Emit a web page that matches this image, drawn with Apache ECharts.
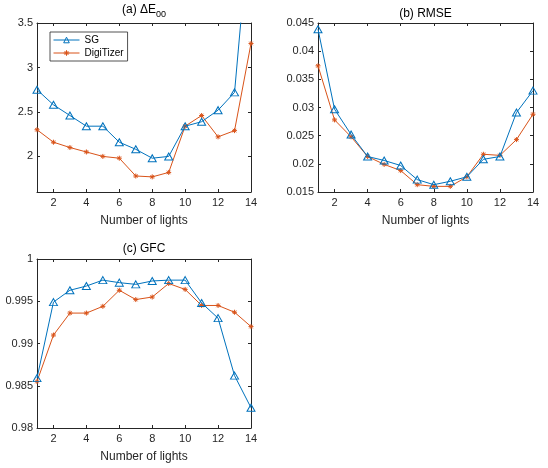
<!DOCTYPE html>
<html><head><meta charset="utf-8">
<script src="https://cdn.jsdelivr.net/npm/echarts@6/dist/echarts.min.js"></script>
<style>html,body{margin:0;padding:0;background:#fff}#c{width:548px;height:468px}</style>
</head><body><div id="c"></div>
<script>
const lights = [1,2,3,4,5,6,7,8,9,10,11,12,13,14];
const xTicks = [2,4,6,8,10,12,14];
const seriesNames = ['SG','DigiTizer'];
const titles = ['(a) ΔE', '(b) RMSE', '(c) GFC'];
const xLabel = 'Number of lights';

const deSG   = [2.75, 2.58, 2.46, 2.34, 2.34, 2.16, 2.08, 1.98, 2.00, 2.34, 2.39, 2.52, 2.72, 4.80];
const deDigi = [2.30, 2.16, 2.10, 2.05, 2.00, 1.98, 1.78, 1.77, 1.82, 2.34, 2.46, 2.22, 2.29, 3.27];
const deTicks = [2, 2.5, 3, 3.5];

const rmseSG   = [0.0439, 0.0297, 0.0252, 0.0213, 0.0206, 0.0197, 0.0172, 0.0163, 0.0169, 0.0177, 0.0208, 0.0213, 0.0291, 0.0330];
const rmseDigi = [0.0374, 0.0278, 0.0248, 0.0213, 0.0199, 0.0188, 0.0163, 0.0160, 0.0160, 0.0177, 0.0217, 0.0215, 0.0243, 0.0288];
const rmseTicks = [0.015, 0.02, 0.025, 0.03, 0.035, 0.04, 0.045];

const gfcSG   = [0.9859, 0.9949, 0.9963, 0.9968, 0.9975, 0.9972, 0.9970, 0.9974, 0.9975, 0.9975, 0.9948, 0.9930, 0.9862, 0.9824];
const gfcDigi = [0.9855, 0.9910, 0.9936, 0.9936, 0.9944, 0.9963, 0.9952, 0.9955, 0.9971, 0.9964, 0.9945, 0.9945, 0.9937, 0.9920];
const gfcTicks = [0.98, 0.985, 0.99, 0.995, 1];

const BLUE = '#0072BD', ORANGE = '#D95319', AX = '#262626';
const FONT = 'Liberation Sans, Arial, Helvetica, sans-serif';
const TRI = 'path://M5,0L10,9L0,9Z';
const AST = 'path://M0,5L10,5M5,0L5,10M1.5,1.5L8.5,8.5M1.5,8.5L8.5,1.5';

const grids = [
  {left: 37, top: 23, width: 214, height: 169},
  {left: 318, top: 23, width: 215, height: 169},
  {left: 37, top: 259, width: 214, height: 169}
];
const yRanges = [[1.6, 3.5, deTicks], [0.015, 0.045, rmseTicks], [0.98, 1, gfcTicks]];
const data = [[deSG, deDigi], [rmseSG, rmseDigi], [gfcSG, gfcDigi]];

const fmt = v => String(+(+v).toFixed(4));
const lineSt = {color: AX, width: 1};
const xAxes = [], yAxes = [], series = [];
grids.forEach((g, i) => {
  const [ymin, ymax, yt] = yRanges[i];
  ['bottom', 'top'].forEach(pos => {
    xAxes.push({
      gridIndex: i, type: 'value', min: 1, max: 14, position: pos,
      axisLine: {show: true, onZero: false, lineStyle: lineSt},
      axisTick: {show: true, inside: true, length: 3, customValues: xTicks, lineStyle: lineSt},
      axisLabel: {show: pos === 'bottom', customValues: xTicks, margin: 5, color: AX, fontSize: 11, fontFamily: FONT},
      splitLine: {show: false},
      name: pos === 'bottom' ? xLabel : '', nameLocation: 'middle', nameGap: 23,
      nameTextStyle: {color: AX, fontSize: 12, fontFamily: FONT}
    });
  });
  ['left', 'right'].forEach(pos => {
    yAxes.push({
      gridIndex: i, type: 'value', min: ymin, max: ymax, position: pos,
      axisLine: {show: true, onZero: false, lineStyle: lineSt},
      axisTick: {show: true, inside: true, length: 3, customValues: yt, lineStyle: lineSt},
      axisLabel: {show: pos === 'left', customValues: yt, margin: 4, color: AX, fontSize: 11, fontFamily: FONT, formatter: fmt},
      splitLine: {show: false}
    });
  });
  [[BLUE, TRI, [8, 7]], [ORANGE, AST, 5]].forEach(([col, sym, sz], k) => {
    series.push({
      name: seriesNames[k], type: 'line', xAxisIndex: i * 2, yAxisIndex: i * 2,
      data: lights.map((x, j) => [x, data[i][k][j]]),
      clip: true, symbol: sym, symbolSize: sz, showAllSymbol: true, z: k === 0 ? 3 : 2,
      lineStyle: {color: col, width: 1},
      itemStyle: {color: 'rgba(0,0,0,0)', borderColor: col, borderWidth: 1},
      emphasis: {disabled: true}, animation: false
    });
  });
});

const titlePos = [[144, 10], [425.5, 14], [144, 249]];
const graphic = titles.map((t, i) => ({
  type: 'text', x: titlePos[i][0], y: titlePos[i][1],
  style: {
    text: i === 0 ? '{m|' + t + '}{s|00}' : t,
    align: 'center', verticalAlign: 'middle', fill: '#000', fontSize: 12, fontFamily: FONT,
    rich: {m: {fontSize: 12, fontFamily: FONT, fill: '#000'}, s: {fontSize: 9, fontFamily: FONT, fill: '#000', padding: [10, 0, 0, 0]}}
  }
}));

const chart = echarts.init(document.getElementById('c'), null, {renderer: 'canvas'});
chart.setOption({
  animation: false,
  backgroundColor: '#fff',
  grid: grids,
  xAxis: xAxes,
  yAxis: yAxes,
  series: series,
  graphic: graphic,
  legend: {
    data: seriesNames, left: 50, top: 32, orient: 'vertical',
    itemWidth: 26, itemHeight: 7, itemGap: 3, padding: [3, 4, 3, 3],
    borderColor: AX, borderWidth: 0.8, backgroundColor: '#fff',
    selectedMode: false,
    lineStyle: {width: 1},
    itemStyle: {color: 'rgba(0,0,0,0)', borderWidth: 1},
    textStyle: {fontSize: 10, color: '#000', fontFamily: FONT}
  }
});
</script></body></html>
